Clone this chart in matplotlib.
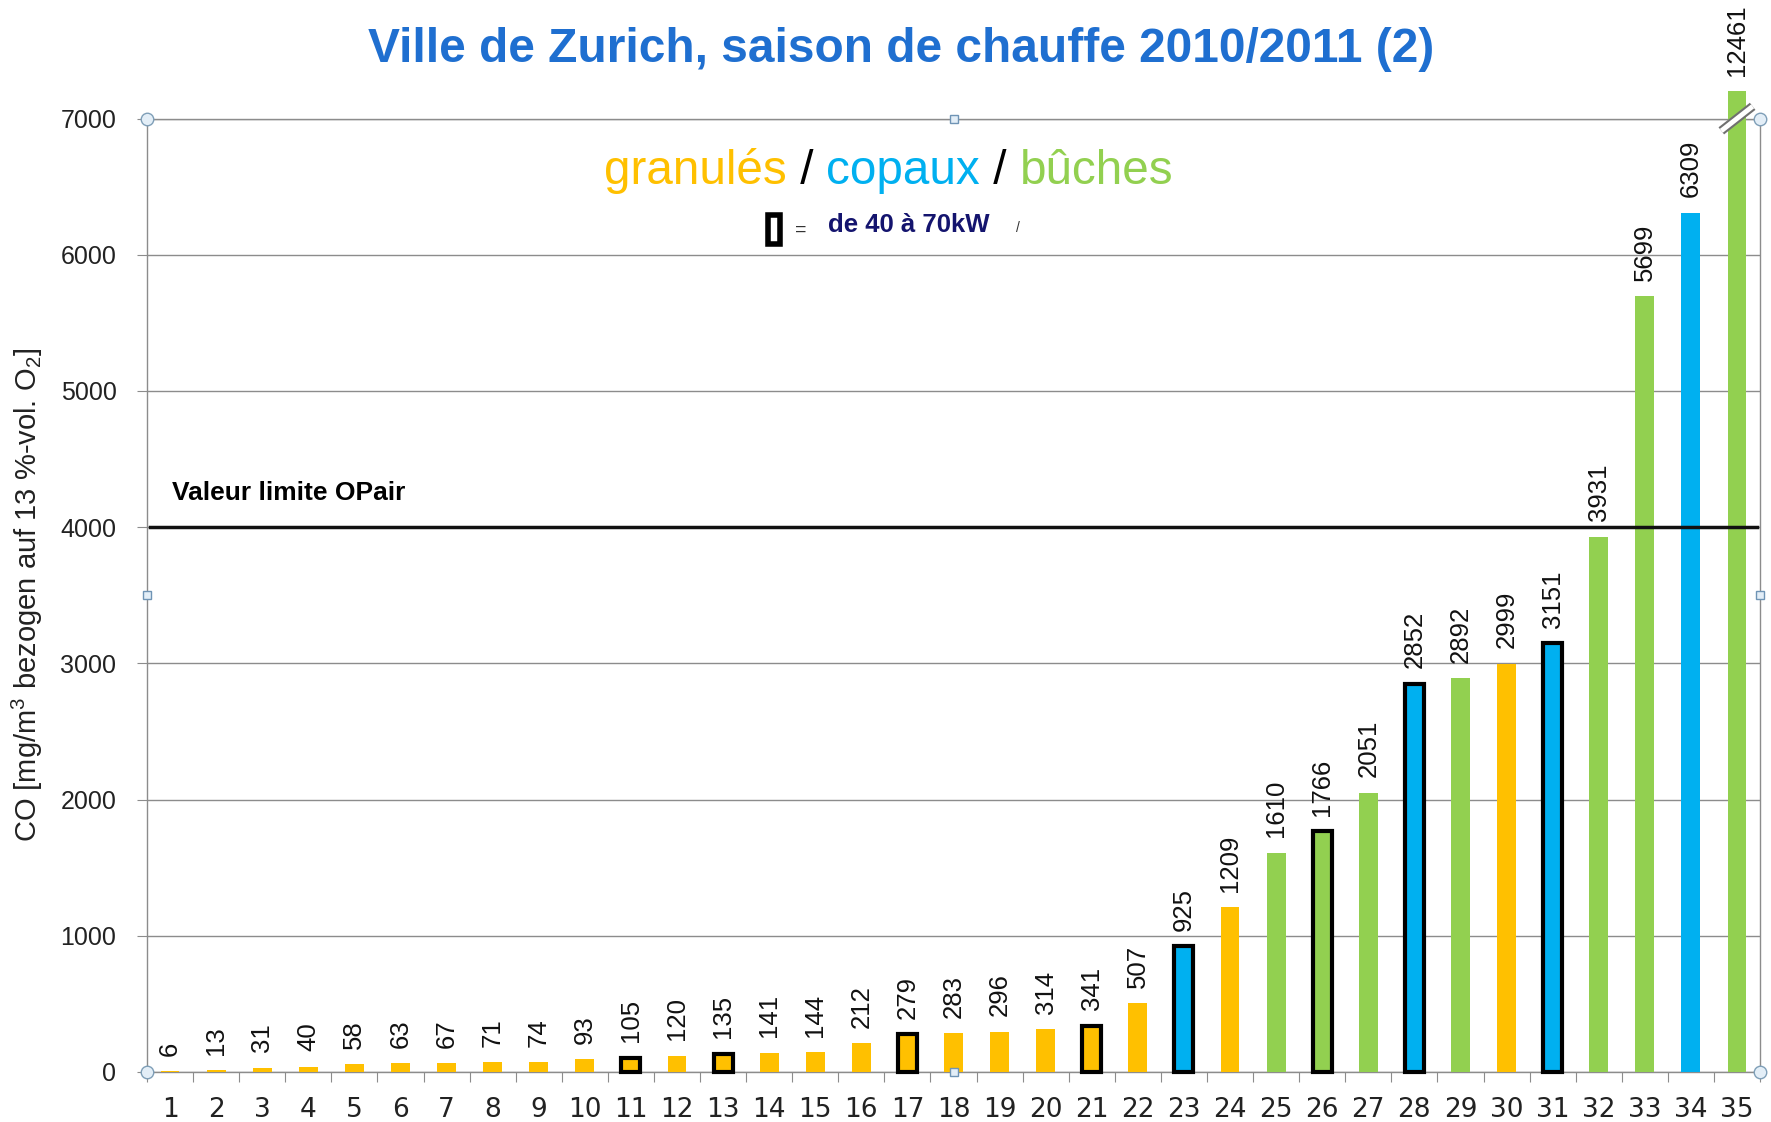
import matplotlib.pyplot as plt
import matplotlib.patches as mpatches
import matplotlib.patheffects as pe
import numpy as np

# Data
install_ids = [str(i) for i in range(1, 36)]
co_values = [6, 13, 31, 40, 58, 63, 67, 71, 74, 93, 105, 120, 135, 141, 144, 212,
             279, 283, 296, 314, 341, 507, 925, 1209, 1610, 1766, 2051, 2852,
             2892, 2999, 3151, 3931, 5699, 6309, 12461]
fuel_types = ['granulés'] * 22 + ['copaux', 'granulés', 'bûches', 'bûches', 'bûches',
                                  'copaux', 'bûches', 'granulés', 'copaux', 'bûches',
                                  'bûches', 'copaux', 'bûches']
outlined_ids = [11, 13, 17, 21, 23, 26, 28, 31]   # 40 to 70 kW
opair_limit = 4000

fuel_colors = {'granulés': '#FFC000', 'copaux': '#00B0F0', 'bûches': '#92D050'}

plt.rcParams['font.family'] = ['Liberation Sans', 'DejaVu Sans']
plt.rcParams['mathtext.default'] = 'regular'

fig = plt.figure(figsize=(17.71, 11.22), dpi=100)
ax = fig.add_axes([0.0830, 0.0446, 0.9108, 0.8497])

y_top = 7000
y_cap = 7200   # the off-scale bar is cut just above the axis
x = np.arange(1, len(co_values) + 1)
shown = np.minimum(co_values, y_cap)
colors = [fuel_colors[f] for f in fuel_types]
edges = ['black' if i in outlined_ids else 'none' for i in x]
widths = [3.0 if i in outlined_ids else 0 for i in x]

ax.bar(x, shown, width=0.41, color=colors, edgecolor=edges, linewidth=widths,
       clip_on=False, zorder=3)

# value labels above each bar
for xi, v, h in zip(x, co_values, shown):
    ax.annotate(str(v), (xi, h), xytext=(0, 11), textcoords='offset points',
                rotation=90, ha='center', va='bottom', fontsize=18.5,
                color='#111111', annotation_clip=False)

# break marker on the off-scale bar
ax.plot([x[-1] - 0.34, x[-1] + 0.34], [y_top - 90, y_top + 90], color='white',
        lw=3.5, clip_on=False, zorder=6, solid_capstyle='butt',
        path_effects=[pe.Stroke(linewidth=6.5, foreground='#707070'), pe.Normal()])

# limit line
ax.axhline(opair_limit, xmin=0.002, xmax=0.998, color='#111111', lw=2.5, zorder=4)
ax.text(1.04, opair_limit + 250, 'Valeur limite OPair', fontsize=19,
        fontweight='bold', ha='left', va='center', color='black')

ax.set_xlim(0.5, len(co_values) + 0.5)
ax.set_ylim(0, y_top)
ax.set_yticks(range(0, y_top + 1, 1000))
ax.yaxis.grid(True, color='#8c8c8c', lw=1)
ax.set_axisbelow(True)

ax.set_xticks(np.arange(0.5, len(co_values) + 1, 1))
ax.set_xticks(x, labels=install_ids, minor=True,
              fontfamily=['Liberation Sans Narrow', 'DejaVu Sans'], fontsize=19)
ax.tick_params(axis='x', which='major', labelbottom=False, length=7,
               color='#8c8c8c', direction='out')
ax.tick_params(axis='x', which='minor', length=0, pad=18, labelcolor='#222222')
ax.tick_params(axis='y', length=7, pad=15, color='#8c8c8c', labelsize=18,
               labelcolor='#222222')
for s in ax.spines.values():
    s.set_color('#8c8c8c')
    s.set_linewidth(1)

ax.set_ylabel('CO [mg/m$^3$ bezogen auf 13 %-vol. O$_2$]', fontsize=21,
              color='#222222')
ax.yaxis.set_label_coords(-0.063, 0.5)

# selection handles left on the chart frame
ax.plot([0, 1, 0, 1], [0, 0, 1, 1], 'o', transform=ax.transAxes, clip_on=False,
        ms=9, mfc='#e3eef7', mec='#7f9fb8', mew=1, zorder=7)
ax.plot([0.5, 0, 1, 0.5], [1, 0.5, 0.5, 0], 's', transform=ax.transAxes,
        clip_on=False, ms=6, mfc='#e3eef7', mec='#6f94b5', mew=1, zorder=7)

# title
fig.text(0.5088, 0.9555, 'Ville de Zurich, saison de chauffe 2010/2011 (2)',
         ha='center', va='center', fontsize=34.5, fontweight='bold',
         color='#1f6fd0')

# coloured legend line
pieces = [('granulés', fuel_colors['granulés']), (' / ', 'black'),
          ('copaux', fuel_colors['copaux']), (' / ', 'black'),
          ('bûches', fuel_colors['bûches'])]
prev = fig.text(0.341, 0.836, pieces[0][0], fontsize=34.3, color=pieces[0][1],
                ha='left', va='baseline')
for txt, col in pieces[1:]:
    prev = ax.annotate(txt, xy=(1, 0), xycoords=prev, fontsize=34.3, color=col,
                       ha='left', va='bottom', annotation_clip=False)

# outlined-box key
fig.patches.append(mpatches.Rectangle((0.4334, 0.7821), 0.0068, 0.0267,
                                      transform=fig.transFigure, fill=False,
                                      edgecolor='black', lw=4, joinstyle='miter'))
fig.text(0.4523, 0.7945, '=', fontsize=14, ha='center', va='center', color='#333333')
fig.text(0.4675, 0.7995, 'de 40 à 70kW', fontsize=18.5, fontweight='bold',
         ha='left', va='center', color='#14146e')
fig.text(0.5745, 0.797, '/', fontsize=10, ha='center', va='center', color='#333333')

fig.savefig('out.png', dpi=100)
